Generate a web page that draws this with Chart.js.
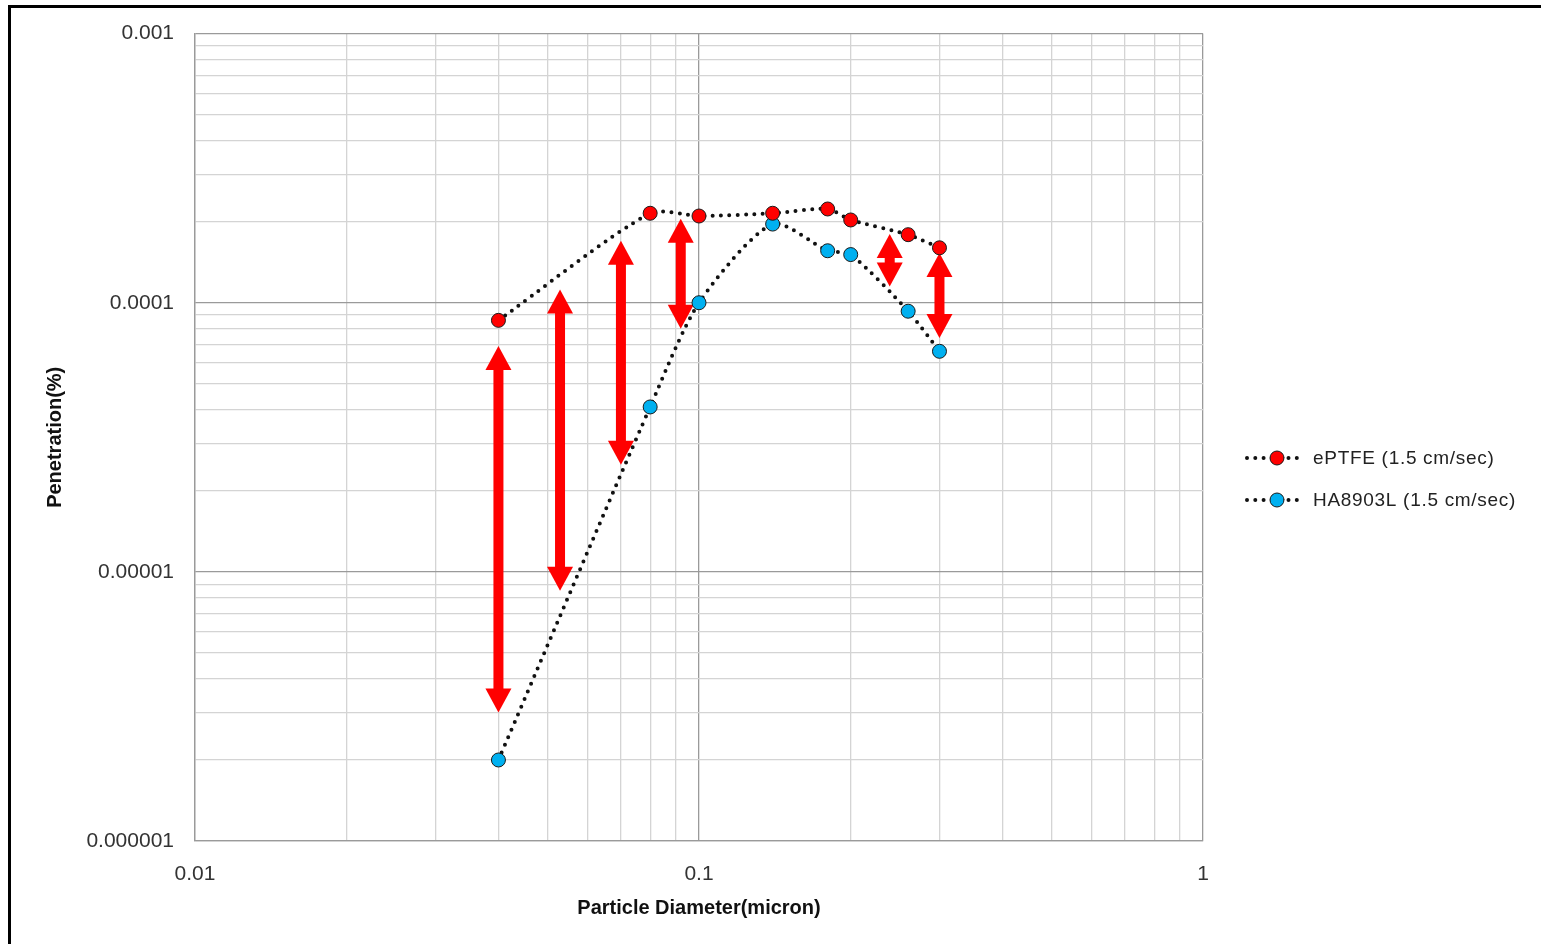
<!DOCTYPE html>
<html>
<head>
<meta charset="utf-8">
<script src="https://cdn.jsdelivr.net/npm/chart.js@4.4.1/dist/chart.umd.min.js"></script>
<style>
  html, body { margin: 0; padding: 0; background: #fff; overflow: hidden; }
  #wrap { position: relative; width: 1541px; height: 944px; overflow: hidden; }
  #frame { position: absolute; left: 8px; top: 5px; width: 1600px; height: 1000px;
           border-top: 3px solid #000; border-left: 3px solid #000; pointer-events: none; }
</style>
</head>
<body>
<div id="wrap">
  <canvas id="c" width="1541" height="944"></canvas>
  <div id="frame"></div>
</div>
<script>
// Particle diameters (micron) and measured penetration for each medium
const diameters = [0.04, 0.08, 0.1, 0.14, 0.18, 0.2, 0.26, 0.3];
const eptfe     = [8.6e-5, 2.15e-4, 2.1e-4, 2.15e-4, 2.23e-4, 2.03e-4, 1.79e-4, 1.6e-4];
const ha8903l   = [2.0e-6, 4.1e-5, 1.0e-4, 1.96e-4, 1.56e-4, 1.51e-4, 9.3e-5, 6.6e-5];
const seriesNames = ['ePTFE (1.5 cm/sec)', 'HA8903L (1.5 cm/sec)'];

// Double-headed arrows marking the gap between the two media
const arrowX      = [0.04, 0.053, 0.07, 0.092, 0.239, 0.3];
const arrowTop    = [6.9e-5, 1.12e-4, 1.7e-4, 2.05e-4, 1.8e-4, 1.53e-4];
const arrowBottom = [3.0e-6, 8.5e-6, 2.5e-5, 8.0e-5, 1.15e-4, 7.4e-5];

// Axis decades and their labels
const xDecades = [0.01, 0.1, 1];
const xTickLabels = ['0.01', '0.1', '1'];
const yDecades = [1e-6, 1e-5, 1e-4, 1e-3];
const yTickLabels = ['0.000001', '0.00001', '0.0001', '0.001'];

const RED = '#ff0000';
const BLUE = '#00b0f0';

// grid positions: 1..9 within every decade, up to the last decade
function gridValues(decades) {
  const out = [];
  for (let i = 0; i < decades.length; i++) {
    if (i === decades.length - 1) { out.push(decades[i]); break; }
    for (let m = 1; m <= 9; m++) out.push(decades[i] * m);
  }
  return out;
}
const isDecade = v => Math.abs(Math.log10(v) - Math.round(Math.log10(v))) < 1e-6;
function decadeLabel(v, decades, labels) {
  if (!isDecade(v)) return '';
  const i = decades.findIndex(d => Math.abs(Math.log10(d) - Math.log10(v)) < 1e-6);
  return i >= 0 ? labels[i] : '';
}

const arrowPlugin = {
  id: 'gapArrows',
  beforeDatasetsDraw(chart) {
    const { ctx, scales: { x, y } } = chart;
    const shaft = 10, headW = 26, headL = 24;
    ctx.save();
    ctx.fillStyle = RED;
    for (let i = 0; i < arrowX.length; i++) {
      const px = x.getPixelForValue(arrowX[i]);
      const t = y.getPixelForValue(arrowTop[i]);
      const b = y.getPixelForValue(arrowBottom[i]);
      ctx.fillRect(px - shaft / 2, t + headL - 1, shaft, (b - headL + 1) - (t + headL - 1));
      ctx.beginPath();
      ctx.moveTo(px, t);
      ctx.lineTo(px + headW / 2, t + headL);
      ctx.lineTo(px - headW / 2, t + headL);
      ctx.closePath();
      ctx.fill();
      ctx.beginPath();
      ctx.moveTo(px, b);
      ctx.lineTo(px + headW / 2, b - headL);
      ctx.lineTo(px - headW / 2, b - headL);
      ctx.closePath();
      ctx.fill();
    }
    ctx.restore();
  }
};

const legendPlugin = {
  id: 'sideLegend',
  afterDraw(chart) {
    const { ctx } = chart;
    const x0 = 1247, x1 = 1303, mx = 1277, tx = 1313;
    const rows = [458, 500];
    ctx.save();
    chart.data.datasets.forEach((ds, i) => {
      const yy = rows[i];
      ctx.beginPath();
      ctx.setLineDash(ds.borderDash);
      ctx.lineCap = 'round';
      ctx.lineWidth = ds.borderWidth;
      ctx.strokeStyle = ds.borderColor;
      ctx.moveTo(x0, yy);
      ctx.lineTo(x1, yy);
      ctx.stroke();
      ctx.setLineDash([]);
      ctx.beginPath();
      ctx.arc(mx, yy, ds.pointRadius, 0, Math.PI * 2);
      ctx.fillStyle = ds.pointBackgroundColor;
      ctx.fill();
      ctx.lineWidth = ds.pointBorderWidth;
      ctx.strokeStyle = ds.pointBorderColor;
      ctx.stroke();
      ctx.fillStyle = '#222';
      ctx.font = '19px "Liberation Sans", Arial, sans-serif';
      ctx.letterSpacing = '0.7px';
      ctx.textBaseline = 'middle';
      ctx.textAlign = 'left';
      ctx.fillText(ds.label, tx, yy + 1);
      ctx.letterSpacing = '0px';
    });
    ctx.restore();
  }
};

function dataset(label, values, color) {
  return {
    label,
    data: diameters.map((d, i) => ({ x: d, y: values[i] })),
    borderColor: '#111',
    borderWidth: 4,
    borderDash: [0, 8.3],
    borderCapStyle: 'round',
    tension: 0.25,
    pointRadius: 7,
    pointHoverRadius: 7,
    pointBackgroundColor: color,
    pointBorderColor: '#1a1a1a',
    pointBorderWidth: 1,
    fill: false
  };
}

const gridColor = ctx => (ctx.tick && isDecade(ctx.tick.value)) ? '#9a9a9a' : '#d4d4d4';

new Chart(document.getElementById('c'), {
  type: 'line',
  data: {
    datasets: [
      dataset(seriesNames[0], eptfe, RED),
      dataset(seriesNames[1], ha8903l, BLUE)
    ]
  },
  options: {
    responsive: false,
    animation: false,
    devicePixelRatio: 1,
    layout: { padding: { left: 0, top: 32, right: 338, bottom: 0 } },
    plugins: { legend: { display: false }, tooltip: { enabled: false } },
    scales: {
      x: {
        type: 'logarithmic',
        min: 0.01, max: 1,
        afterBuildTicks: s => { s.ticks = gridValues(xDecades).map(v => ({ value: v })); },
        afterFit: s => { s.height = 103; },
        ticks: {
          autoSkip: false, maxRotation: 0, padding: 21, color: '#333',
          font: { family: '"Liberation Sans", Arial, sans-serif', size: 21 },
          callback: v => decadeLabel(v, xDecades, xTickLabels)
        },
        grid: { color: gridColor, lineWidth: 1.3, drawTicks: false },
        border: { color: '#9a9a9a', width: 1.3 },
        title: {
          display: true, text: 'Particle Diameter(micron)', color: '#111',
          font: { family: '"Liberation Sans", Arial, sans-serif', size: 20, weight: 'bold' },
          padding: { top: 0, bottom: 24 }
        }
      },
      y: {
        type: 'logarithmic',
        min: 1e-6, max: 1e-3,
        afterBuildTicks: s => { s.ticks = gridValues(yDecades).map(v => ({ value: v })); },
        afterFit: s => { s.width = 195; },
        ticks: {
          autoSkip: false, padding: 21, color: '#333',
          font: { family: '"Liberation Sans", Arial, sans-serif', size: 21 },
          callback: v => decadeLabel(v, yDecades, yTickLabels)
        },
        grid: { color: gridColor, lineWidth: 1.3, drawTicks: false },
        border: { color: '#9a9a9a', width: 1.3 },
        title: {
          display: true, text: 'Penetration(%)', color: '#111',
          font: { family: '"Liberation Sans", Arial, sans-serif', size: 20, weight: 'bold' },
          padding: { top: 43, bottom: 0 }
        }
      }
    }
  },
  plugins: [arrowPlugin, legendPlugin]
});
</script>
</body>
</html>
